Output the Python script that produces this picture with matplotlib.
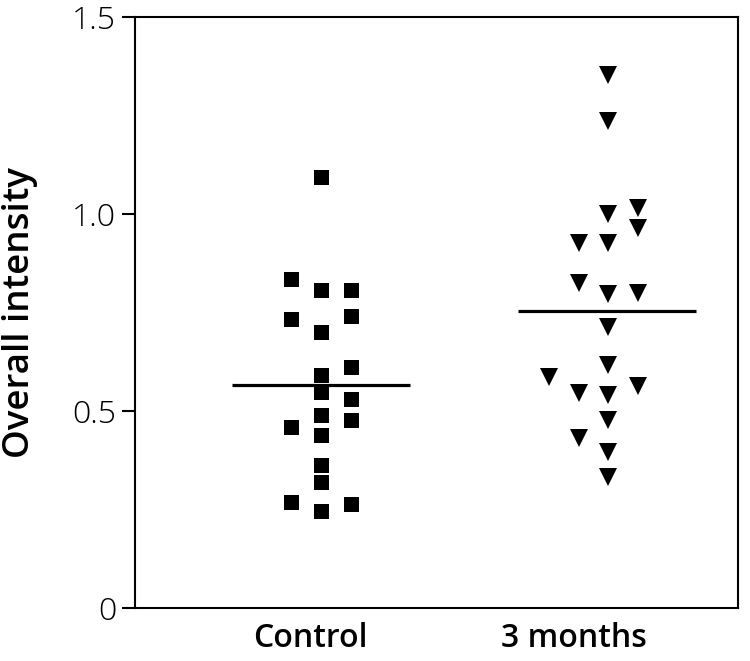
import numpy as np
import matplotlib
matplotlib.use("Agg")
import matplotlib.pyplot as plt
from matplotlib import font_manager

categories = ["Control", "3 months"]
control_values = [1.095, 0.834, 0.807, 0.807, 0.734, 0.742, 0.700, 0.612, 0.591, 0.547,
                  0.531, 0.491, 0.478, 0.460, 0.438, 0.364, 0.320, 0.269, 0.264, 0.247]
control_cols = [0, -1, 0, 1, -1, 1, 0, 1, 0, 0,
                1, 0, 1, -1, 0, 0, 0, -1, 1, 0]
months_values = [1.353, 1.236, 1.016, 0.999, 0.964, 0.927, 0.927, 0.826, 0.798, 0.800,
                 0.712, 0.617, 0.587, 0.564, 0.546, 0.541, 0.477, 0.431, 0.397, 0.333]
months_cols = [0, 0, 1, 0, 1, -1, 0, -1, 0, 1,
               0, 0, -2, 1, -1, 0, 0, -1, 0, 0]
yticks = [0, 0.5, 1.0, 1.5]
ytick_labels = ["0", "0.5", "1.0", "1.5"]

avail = {f.name for f in font_manager.fontManager.ttflist}
fam = "Open Sans" if "Open Sans" in avail else "DejaVu Sans"
plt.rcParams["font.family"] = [fam, "DejaVu Sans"]

fig = plt.figure(figsize=(7.5, 6.61), dpi=100)
ax = fig.add_axes([0.18, 0.0802, 0.804, 0.8941])

col_w = 0.102
xc = [1.0, 1.985]

ax.plot(xc[0] + np.array(control_cols) * col_w, control_values, linestyle="none",
        marker="s", markersize=10.8, color="black", markeredgewidth=0)
ax.plot(xc[1] + np.array(months_cols) * col_w, months_values, linestyle="none",
        marker="v", markersize=13, color="black", markeredgewidth=0)

half = 0.305
for x, vals in zip([1.0, 1.982], [control_values, months_values]):
    m = np.mean(vals)
    ax.plot([x - half, x + half], [m, m], color="black", linewidth=2.3, solid_capstyle="butt")

ax.set_xlim(0.362, 2.43)
ax.set_ylim(0, 1.5)
ax.set_yticks(yticks)
ax.set_yticklabels(ytick_labels, fontsize=23, fontweight="light")
ax.set_xticks([0.962, 1.867])
ax.set_xticklabels(categories, fontsize=23, fontweight="semibold")
ax.tick_params(axis="x", length=0, pad=10)
ax.tick_params(axis="y", length=9.5, width=1.5, pad=4, direction="out")
for s in ax.spines.values():
    s.set_linewidth(1.5)
ax.set_ylabel("Overall intensity", fontsize=26.5, fontweight="semibold", labelpad=25)

fig.savefig("out.png", dpi=100)
